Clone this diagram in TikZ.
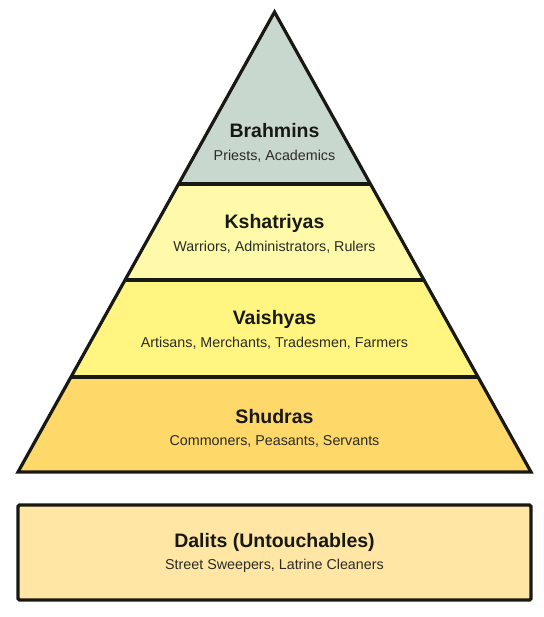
\documentclass[tikz,border=0pt]{standalone}
\usepackage{fontspec}
\setmainfont{Liberation Sans}
\usetikzlibrary{calc}
\definecolor{brahmin}{RGB}{201,216,206}
\definecolor{kshat}{RGB}{255,250,170}
\definecolor{vaish}{RGB}{255,245,128}
\definecolor{shud}{RGB}{255,216,106}
\definecolor{dalit}{RGB}{255,230,165}
\definecolor{ink}{RGB}{25,25,20}
\tikzset{
  outline/.style={draw=ink,line width=3.2pt,line join=miter},
  title/.style={font=\bfseries\fontsize{19.5}{22}\selectfont,text=ink,inner sep=0pt},
  sub/.style={font=\fontsize{14.3}{16}\selectfont,text=ink!92,inner sep=0pt}
}
\begin{document}
\begin{tikzpicture}[x=1pt,y=-1pt]
\useasboundingbox (0,0) rectangle (543,617);
\coordinate (A) at (274.5,12);
\coordinate (BL) at (18,472);
\coordinate (BR) at (531,472);
\coordinate (L1) at ($(A)!0.3739!(BL)$);
\coordinate (R1) at ($(A)!0.3739!(BR)$);
\coordinate (L2) at ($(A)!0.5826!(BL)$);
\coordinate (R2) at ($(A)!0.5826!(BR)$);
\coordinate (L3) at ($(A)!0.7935!(BL)$);
\coordinate (R3) at ($(A)!0.7935!(BR)$);
\fill[brahmin] (A) -- (L1) -- (R1) -- cycle;
\fill[kshat] (L1) -- (L2) -- (R2) -- (R1) -- cycle;
\fill[vaish] (L2) -- (L3) -- (R3) -- (R2) -- cycle;
\fill[shud] (L3) -- (BL) -- (BR) -- (R3) -- cycle;
\draw[outline] (L1) -- (R1);
\draw[outline] (L2) -- (R2);
\draw[outline] (L3) -- (R3);
\draw[outline] (A) -- (BL) -- (BR) -- cycle;
\draw[outline,fill=dalit,rounded corners=1.5pt] (18,505) rectangle (531,600);
\node[title] (t1) at (274.5,131) {Brahmins};
\node[sub] (s1) at (274.5,156) {Priests, Academics};
\node[title] (t2) at (274.5,223) {Kshatriyas};
\node[sub] (s2) at (274.5,247) {Warriors, Administrators, Rulers};
\node[title] (t3) at (274.5,319) {Vaishyas};
\node[sub] (s3) at (274.5,343) {Artisans, Merchants, Tradesmen, Farmers};
\node[title] (t4) at (274.5,417) {Shudras};
\node[sub] (s4) at (274.5,441) {Commoners, Peasants, Servants};
\node[title] (t5) at (274.5,542) {Dalits (Untouchables)};
\node[sub] (s5) at (274.5,566) {Street Sweepers, Latrine Cleaners};
\end{tikzpicture}
\end{document}
